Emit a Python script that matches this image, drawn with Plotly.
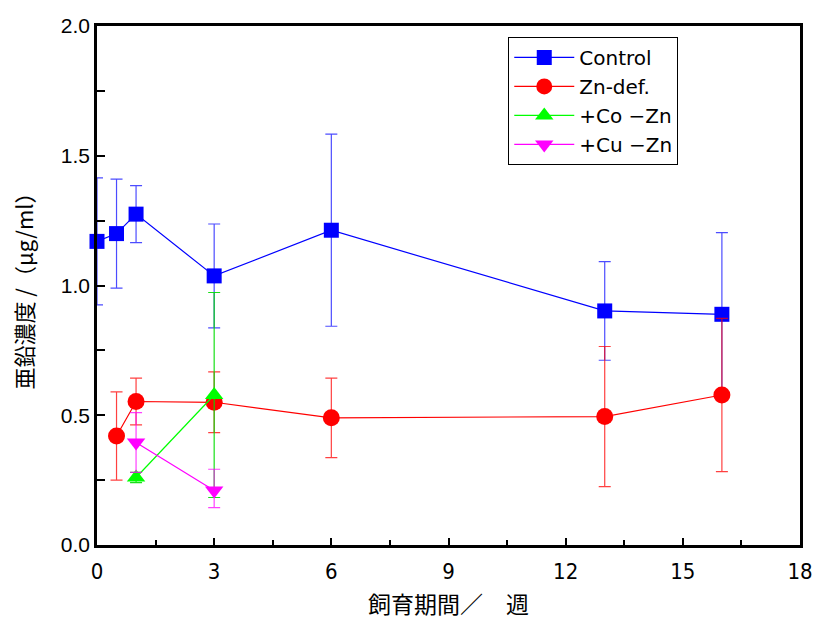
import plotly.graph_objects as go

# Data
ctrl_x = [0, 0.5, 1, 3, 6, 13, 16]
ctrl_y = [1.17, 1.20, 1.275, 1.037, 1.213, 0.902, 0.889]
ctrl_e = [0.245, 0.21, 0.11, 0.20, 0.37, 0.19, 0.315]

zn_x = [0.5, 1, 3, 6, 13, 16]
zn_y = [0.42, 0.553, 0.55, 0.49, 0.495, 0.578]
zn_e = [0.17, 0.09, 0.117, 0.153, 0.27, 0.295]

co_x = [1, 3]
co_y = [0.26, 0.578]
co_e = [0.02, 0.395]

cu_x = [1, 3]
cu_y = [0.395, 0.21]
cu_eplus = [0.115, 0.082]
cu_eminus = [0.115, 0.066]

x_ticks = [0, 3, 6, 9, 12, 15, 18]
y_ticks = [0.0, 0.5, 1.0, 1.5, 2.0]

fig = go.Figure()

def add(name, xs, ys, color, symbol, size, eplus, eminus=None, ecolor=None):
    err = dict(type="data", array=eplus, visible=True, color=ecolor or color,
               thickness=1.2, width=6)
    if eminus is not None:
        err["symmetric"] = False
        err["arrayminus"] = eminus
    fig.add_trace(go.Scatter(
        x=xs, y=ys, name=name, mode="lines+markers",
        line=dict(color=color, width=1.2),
        marker=dict(color=color, symbol=symbol, size=size, line=dict(width=0)),
        error_y=err, cliponaxis=False))

add("Control", ctrl_x, ctrl_y, "#0000ff", "square", 15, ctrl_e, ecolor="rgba(0,0,255,0.7)")
add("Zn-def.", zn_x, zn_y, "#ff0000", "circle", 17, zn_e, ecolor="rgba(255,0,0,0.75)")
add("+Co −Zn", co_x, co_y, "#00ff00", "triangle-up", 16, co_e, ecolor="rgba(0,220,0,0.9)")
add("+Cu −Zn", cu_x, cu_y, "#ff00ff", "triangle-down", 16, cu_eplus, cu_eminus, ecolor="rgba(255,0,255,0.75)")

fig.update_layout(
    width=814, height=624,
    margin=dict(l=97, r=14, t=26, b=79),
    paper_bgcolor="white", plot_bgcolor="white",
    font=dict(family="Liberation Sans, Arial, sans-serif", color="black", size=21),
    showlegend=True,
    legend=dict(x=0.585, y=0.979, xanchor="left", yanchor="top",
                bgcolor="white", bordercolor="black", borderwidth=1,
                font=dict(size=20, family="DejaVu Sans, sans-serif"),
                tracegroupgap=0, itemwidth=60),
    xaxis=dict(
        range=[0, 18], tickvals=x_ticks, ticktext=[str(v) for v in x_ticks],
        automargin=False, ticklabeloverflow="allow", ticklabelstandoff=5,
        showgrid=False, zeroline=False, showline=True, linecolor="black", linewidth=2.5,
        mirror=True, ticks="inside", ticklen=7, tickwidth=2, tickcolor="black",
        minor=dict(dtick=1.5, tick0=0, ticks="inside", ticklen=5, tickwidth=2, tickcolor="black"),
        tickfont=dict(family="Liberation Sans Narrow, DejaVu Sans Condensed, sans-serif", size=22),
        title=dict(text="飼育期間／　週", font=dict(family="Noto Sans CJK JP", size=23), standoff=14),
    ),
    yaxis=dict(
        range=[0, 2.0], tickvals=y_ticks, ticktext=["0.0", "0.5", "1.0", "1.5", "2.0"],
        automargin=False,
        showgrid=False, zeroline=False, showline=True, linecolor="black", linewidth=2.5,
        mirror=True, ticks="inside", ticklen=8, tickwidth=2, tickcolor="black",
        minor=dict(dtick=0.25, tick0=0, ticks="inside", ticklen=8, tickwidth=2, tickcolor="black"),
        tickfont=dict(size=21),
        title=dict(text="亜鉛濃度 /（μg/ml）", font=dict(family="Noto Sans CJK JP", size=22), standoff=22),
    ),
)

fig.write_html("out.html")
